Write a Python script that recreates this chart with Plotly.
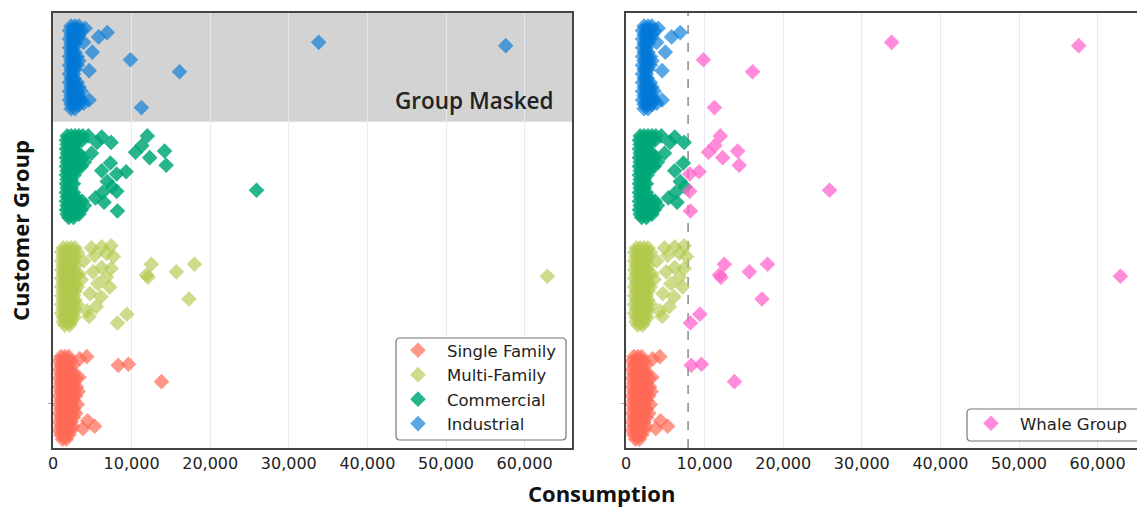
import plotly.graph_objects as go

# Customer groups, bottom to top
GROUPS = ["Single Family", "Multi-Family", "Commercial", "Industrial"]
COLORS = [
    "rgba(255,105,85,0.7)",
    "rgba(176,202,76,0.65)",
    "rgba(0,168,120,0.85)",
    "rgba(0,120,215,0.65)",
]
WHALE_NAME = "Whale Group"
WHALE_COLOR = "rgba(255,100,205,0.75)"
WHALE_THRESHOLD = 7900
X_TICKS = [0, 10000, 20000, 30000, 40000, 50000, 60000]

# Dense core of each group: (jitter offset, [consumption values on that row])
single_family_core = [
    (0.34, [1000, 1500, 2000]),
    (0.30, [800, 1300, 1800, 2300]),
    (0.26, [1000, 1500, 2000, 2500]),
    (0.22, [800, 1300, 1800, 2300]),
    (0.18, [1000, 1500, 2000, 2600]),
    (0.14, [800, 1300, 1800, 2400, 2900]),
    (0.10, [1000, 1500, 2000, 2600]),
    (0.06, [800, 1300, 1800, 2400, 3000]),
    (0.02, [1000, 1500, 2000, 2600, 3200]),
    (-0.02, [800, 1300, 1800, 2400, 2900]),
    (-0.06, [1000, 1500, 2000, 2600]),
    (-0.10, [800, 1300, 1800, 2400, 3100]),
    (-0.14, [1000, 1500, 2000, 2600]),
    (-0.18, [800, 1300, 1800, 2400, 2900]),
    (-0.22, [1000, 1500, 2000, 2600]),
    (-0.26, [800, 1300, 1800, 2300]),
    (-0.30, [1000, 1500, 2000, 2500]),
    (-0.34, [800, 1300, 1800, 2300]),
    (-0.38, [1000, 1500, 2000]),
    (-0.42, [1200, 1700]),
]
multi_family_core = [
    (0.34, [1300, 1800, 2300, 2800]),
    (0.30, [1100, 1600, 2100, 2600, 3100]),
    (0.26, [1300, 1800, 2300, 2800]),
    (0.22, [1100, 1600, 2100, 2600]),
    (0.18, [1300, 1800, 2300, 2800]),
    (0.14, [1100, 1600, 2100, 2600]),
    (0.10, [1300, 1800, 2300, 2800, 3300]),
    (0.06, [1100, 1600, 2100, 2600]),
    (0.02, [1300, 1800, 2300, 2800]),
    (-0.02, [1100, 1600, 2100, 2600, 3100]),
    (-0.06, [1300, 1800, 2300, 2800]),
    (-0.10, [1100, 1600, 2100, 2600]),
    (-0.14, [1300, 1800, 2300, 2800]),
    (-0.18, [1100, 1600, 2100, 2600, 3100]),
    (-0.22, [1300, 1800, 2300, 2800]),
    (-0.26, [1100, 1600, 2100, 2600]),
    (-0.30, [1300, 1800, 2300, 2700]),
    (-0.34, [1300, 1800, 2300]),
    (-0.37, [1500, 2100]),
]
commercial_core = [
    (0.37, [1800, 2300, 2800, 3300, 3800]),
    (0.33, [1700, 2200, 2700, 3200, 3700]),
    (0.29, [1800, 2300, 2800]),
    (0.25, [1700, 2200, 2700]),
    (0.21, [1800, 2300, 2800, 3300]),
    (0.17, [1700, 2200, 2700, 3200, 3700]),
    (0.13, [1800, 2300, 2800, 3300, 4000]),
    (0.09, [1700, 2200, 2700, 3200, 3600]),
    (0.05, [1800, 2300, 2800]),
    (0.01, [1700, 2200, 2700]),
    (-0.03, [1800, 2300]),
    (-0.07, [1700, 2200, 2600]),
    (-0.11, [1800, 2300]),
    (-0.15, [1700, 2200, 2600]),
    (-0.19, [1800, 2300, 2800]),
    (-0.23, [1700, 2200, 2700, 3200, 3700]),
    (-0.27, [1800, 2300, 2800, 3300, 4000]),
    (-0.31, [1700, 2200, 2700, 3200, 3600]),
    (-0.35, [1800, 2300, 2800, 3300]),
    (-0.38, [2000, 2600]),
]
industrial_core = [
    (0.38, [2300, 2800, 3300]),
    (0.34, [2100, 2600, 3100, 3600]),
    (0.30, [2300, 2800, 3300]),
    (0.26, [2100, 2600, 3100]),
    (0.22, [2300, 2800]),
    (0.18, [2100, 2600]),
    (0.14, [2300, 2800]),
    (0.10, [2100, 2600, 3100]),
    (0.06, [2300, 2800, 3300]),
    (0.02, [2100, 2600, 3100]),
    (-0.02, [2300, 2800]),
    (-0.06, [2100, 2600]),
    (-0.10, [2300, 2700]),
    (-0.14, [2100, 2600]),
    (-0.18, [2300, 2800, 3300]),
    (-0.22, [2100, 2600, 3100, 3600]),
    (-0.26, [2300, 2800, 3300]),
    (-0.30, [2100, 2600, 3100, 3600]),
    (-0.34, [2300, 2800, 3300]),
    (-0.38, [2300, 2800]),
]

# Scattered customers outside the core: (consumption, jitter offset)
single_family_spread = [
    (3400, 0.32), (4300, 0.34), (3300, 0.15),
    (3800, -0.32), (4400, -0.25), (5300, -0.30),
    (8300, 0.26), (9600, 0.27), (13800, 0.11),
]
multi_family_spread = [
    (4900, 0.34), (6200, 0.35), (7400, 0.36), (5300, 0.27), (6800, 0.29),
    (7700, 0.26), (6200, 0.16), (7400, 0.15), (5100, 0.12), (6800, 0.07),
    (5700, 0.01), (7200, -0.02), (4700, -0.08), (6100, -0.11), (5500, -0.20),
    (4600, -0.29), (3900, 0.22), (4300, -0.24), (3600, 0.05),
    (12500, 0.19), (18000, 0.19), (15700, 0.12), (11900, 0.09), (12100, 0.07),
    (62900, 0.08), (17300, -0.13), (9400, -0.27), (8200, -0.35),
]
commercial_spread = [
    (4500, 0.37), (6200, 0.36), (7400, 0.31), (5600, 0.31), (7300, 0.12),
    (6200, 0.05), (6900, -0.05), (7500, -0.10), (6300, -0.15), (6500, -0.24),
    (4900, 0.21), (5400, -0.20),
    (12000, 0.37), (11300, 0.28), (10500, 0.22), (14200, 0.23), (12300, 0.17),
    (14400, 0.10), (9300, 0.04), (8100, 0.02), (8100, -0.14), (25900, -0.13),
    (8200, -0.32),
]
industrial_spread = [
    (4100, 0.36), (5800, 0.28), (6900, 0.32), (3900, 0.23), (5000, 0.14),
    (4600, -0.03), (3100, -0.14), (4600, -0.30), (3900, -0.33),
    (33800, 0.23), (57600, 0.20), (9850, 0.07), (16100, -0.04), (11250, -0.37),
]


def customers(core, spread):
    pts = [(c, j) for j, row in core for c in row]
    return pts + list(spread)


GROUP_POINTS = [
    customers(single_family_core, single_family_spread),
    customers(multi_family_core, multi_family_spread),
    customers(commercial_core, commercial_spread),
    customers(industrial_core, industrial_spread),
]

MARKER_SIZE = 12
TICK_FONT = dict(family="DejaVu Sans", size=16, color="#222222")
LEGEND_FONT = dict(family="DejaVu Sans", size=16.5, color="#222222")
FRAME = "#444444"
GRID = "#E3EAF6"

fig = go.Figure()

# Left panel: every customer coloured by its group
for k, (name, pts, color) in enumerate(zip(GROUPS, GROUP_POINTS, COLORS)):
    fig.add_trace(go.Scatter(
        x=[c for c, _ in pts], y=[k + j for _, j in pts],
        mode="markers", name=name, legend="legend",
        marker=dict(symbol="diamond", size=MARKER_SIZE, color=color, line_width=0),
        xaxis="x", yaxis="y", hoverinfo="skip",
    ))

# Right panel: customers below the threshold keep their group colour
for k, (name, pts, color) in enumerate(zip(GROUPS, GROUP_POINTS, COLORS)):
    keep = [(c, j) for c, j in pts if c <= WHALE_THRESHOLD]
    fig.add_trace(go.Scatter(
        x=[c for c, _ in keep], y=[k + j for _, j in keep],
        mode="markers", name=name, showlegend=False,
        marker=dict(symbol="diamond", size=MARKER_SIZE, color=color, line_width=0),
        xaxis="x2", yaxis="y2", hoverinfo="skip",
    ))

# ...and the heavy consumers above it form the whale group
whale_x, whale_y = [], []
for k, pts in enumerate(GROUP_POINTS):
    for c, j in pts:
        if c > WHALE_THRESHOLD:
            whale_x.append(c)
            whale_y.append(k + j)
fig.add_trace(go.Scatter(
    x=whale_x, y=whale_y, mode="markers", name=WHALE_NAME, legend="legend2",
    marker=dict(symbol="diamond", size=MARKER_SIZE, color=WHALE_COLOR, line_width=0),
    xaxis="x2", yaxis="y2", hoverinfo="skip",
))

W, H = 1137, 508
ML, MR, MT, MB = 53, 0, 13, 60
PW = W - ML - MR
PH = H - MT - MB
PX_PER_UNIT = 78.6 / 10000  # pixels per unit of consumption

left_dom = [0, (572 - ML) / PW]
right_dom = [(626 - ML) / PW, 1]
left_max = (572 - ML) / PX_PER_UNIT
right_max = (W - 626) / PX_PER_UNIT


def fx(px):
    """Horizontal pixel position -> plot-area fraction."""
    return (px - ML) / PW


def fy(py):
    """Vertical pixel position -> plot-area fraction."""
    return (H - MB - py) / PH


def rounded_box(x0, y0, x1, y1, r=4):
    """Rounded rectangle path in plot-area fractions (pixel inputs)."""
    rx, ry = r / PW, r / PH
    a, b, c, d = fx(x0), fx(x1), fy(y1), fy(y0)
    return (
        f"M{a + rx},{c} L{b - rx},{c} Q{b},{c} {b},{c + ry} "
        f"L{b},{d - ry} Q{b},{d} {b - rx},{d} L{a + rx},{d} "
        f"Q{a},{d} {a},{d - ry} L{a},{c + ry} Q{a},{c} {a + rx},{c} Z"
    )


xcommon = dict(
    tickvals=X_TICKS, tickformat=",", tickfont=TICK_FONT, ticks="",
    showgrid=True, gridcolor=GRID, gridwidth=1, zeroline=False,
    showline=True, linecolor=FRAME, linewidth=1.5, mirror=True,
)
ycommon = dict(
    range=[-0.5, 3.5], showticklabels=False, tickvals=[-0.09], ticks="outside",
    ticklen=3, tickcolor="#AAAAAA", tickwidth=1, showgrid=False,
    zeroline=False, showline=True, linecolor=FRAME, linewidth=1.5,
)

legend_common = dict(
    xanchor="left", yanchor="top", font=LEGEND_FONT,
    bgcolor="rgba(0,0,0,0)", borderwidth=0, itemwidth=48, tracegroupgap=0,
)

fig.update_layout(
    width=W, height=H,
    margin=dict(l=ML, r=MR, t=MT, b=MB, pad=0, autoexpand=False),
    paper_bgcolor="white", plot_bgcolor="white",
    xaxis=dict(domain=left_dom, range=[0, left_max], anchor="y", **xcommon),
    yaxis=dict(domain=[0, 1], anchor="x", mirror=True, **ycommon),
    xaxis2=dict(domain=right_dom, range=[0, right_max], anchor="y2", **xcommon),
    yaxis2=dict(domain=[0, 1], anchor="x2", mirror=False, **ycommon),
    legend=dict(x=fx(389), y=fy(333), **legend_common),
    legend2=dict(x=fx(962), y=fy(406), **legend_common),
    shapes=[
        dict(type="rect", xref="x domain", yref="y", x0=0, x1=1, y0=2.5, y1=3.5,
             fillcolor="#D3D3D3", line_width=0, layer="below"),
        dict(type="line", xref="x2", yref="y2 domain", x0=WHALE_THRESHOLD,
             x1=WHALE_THRESHOLD, y0=0, y1=1,
             line=dict(color="#8A8A8A", width=1.5, dash="dash"), layer="below"),
        # legend frames
        dict(type="path", xref="paper", yref="paper",
             path=rounded_box(396, 338, 566, 440),
             fillcolor="white", line=dict(color="#777777", width=1.2), layer="above"),
        dict(type="path", xref="paper", yref="paper",
             path=rounded_box(967, 409, 1160, 441),
             fillcolor="white", line=dict(color="#777777", width=1.2), layer="above"),
    ],
    annotations=[
        dict(text="Group Masked", xref="x domain", yref="y", x=0.97, y=2.70,
             xanchor="right", yanchor="middle", showarrow=False,
             font=dict(family="Open Sans", size=22.5, color="#222222", weight=600)),
        dict(text="Consumption", xref="paper", yref="paper",
             x=fx(601), y=fy(493),
             xanchor="center", yanchor="middle", showarrow=False,
             font=dict(family="Open Sans", size=22, color="#111111", weight="bold")),
        dict(text="Customer Group", xref="paper", yref="paper",
             x=fx(20), y=fy(231), textangle=-90,
             xanchor="center", yanchor="middle", showarrow=False,
             font=dict(family="Open Sans", size=22, color="#111111", weight="bold")),
    ],
)

fig.write_html("out.html")
